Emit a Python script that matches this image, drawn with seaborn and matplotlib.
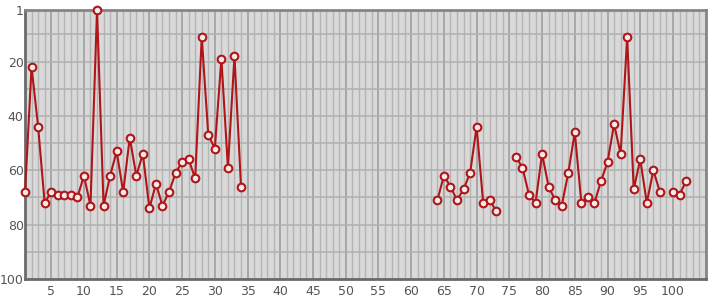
import numpy as np
import pandas as pd
import matplotlib
matplotlib.use("Agg")
import matplotlib.pyplot as plt
import seaborn as sns
from matplotlib.ticker import MultipleLocator, FixedLocator

# Data: x positions 1..102, NaN where the series has gaps
x_vals = list(range(1, 103))
first_part = [68, 22, 44, 72, 68, 69, 69, 69, 70, 62,
              73, 1, 73, 62, 53, 68, 48, 62, 54, 74,
              65, 73, 68, 61, 57, 56, 63, 11, 47, 52,
              19, 59, 18, 66]                     # x = 1..34
gap_1 = [np.nan] * 29                             # x = 35..63
second_part = [71, 62, 66, 71, 67, 61, 44, 72, 71, 75]   # x = 64..73
gap_2 = [np.nan] * 2                              # x = 74..75
third_part = [55, 59, 69, 72, 54, 66, 71, 73, 61, 46,
              72, 70, 72, 64, 57, 43, 54, 11, 67, 56,
              72, 60, 68]                         # x = 76..98
gap_3 = [np.nan]                                  # x = 99
fourth_part = [68, 69, 64]                        # x = 100..102
rank_vals = first_part + gap_1 + second_part + gap_2 + third_part + gap_3 + fourth_part

y_ticks = [1, 20, 40, 60, 80, 100]
x_ticks = list(range(5, 101, 5))

df = pd.DataFrame({"x": x_vals, "rank": rank_vals})
# segment id so that gaps break the line
df["seg"] = df["rank"].isna().cumsum()
df = df.dropna()

sns.set_style("white")
fig, ax = plt.subplots(figsize=(7.15, 3.0), dpi=100)
fig.subplots_adjust(left=0.035, right=0.987, top=0.967, bottom=0.07)

ax.set_facecolor("#d9d9d9")

line_color = "#b01518"
sns.lineplot(data=df, x="x", y="rank", units="seg", estimator=None,
             color=line_color, linewidth=1.5, marker="o", markersize=5.5,
             markerfacecolor="#f4eaea", markeredgecolor=line_color,
             markeredgewidth=1.5, ax=ax, legend=False, zorder=3)
for ln in ax.lines:
    ln.set_clip_on(False)

ax.set_xlim(1, 105)
ax.set_ylim(100, 1)

ax.xaxis.set_major_locator(FixedLocator(x_ticks))
ax.xaxis.set_minor_locator(MultipleLocator(1))
ax.yaxis.set_major_locator(FixedLocator(y_ticks))
ax.yaxis.set_minor_locator(FixedLocator(list(range(10, 100, 10))))

ax.grid(which="minor", axis="x", color="#b5b5b5", linewidth=1.0, zorder=0)
ax.grid(which="major", axis="x", color="#9a9a9a", linewidth=1.1, zorder=0)
ax.grid(which="minor", axis="y", color="#b0b0b0", linewidth=1.1, zorder=0)
ax.grid(which="major", axis="y", color="#b0b0b0", linewidth=1.1, zorder=0)
ax.set_axisbelow(True)

ax.tick_params(which="both", length=0, labelsize=9, labelcolor="#555555")
ax.tick_params(axis="y", pad=1)
ax.tick_params(axis="x", pad=4)
ax.set_xlabel("")
ax.set_ylabel("")

for side in ["left", "bottom"]:
    ax.spines[side].set_color("#6a6a6a")
    ax.spines[side].set_linewidth(2.0)
for side in ["top", "right"]:
    ax.spines[side].set_color("#858585")
    ax.spines[side].set_linewidth(2.0)
    ax.spines[side].set_visible(True)

fig.savefig("out.png", dpi=100)
